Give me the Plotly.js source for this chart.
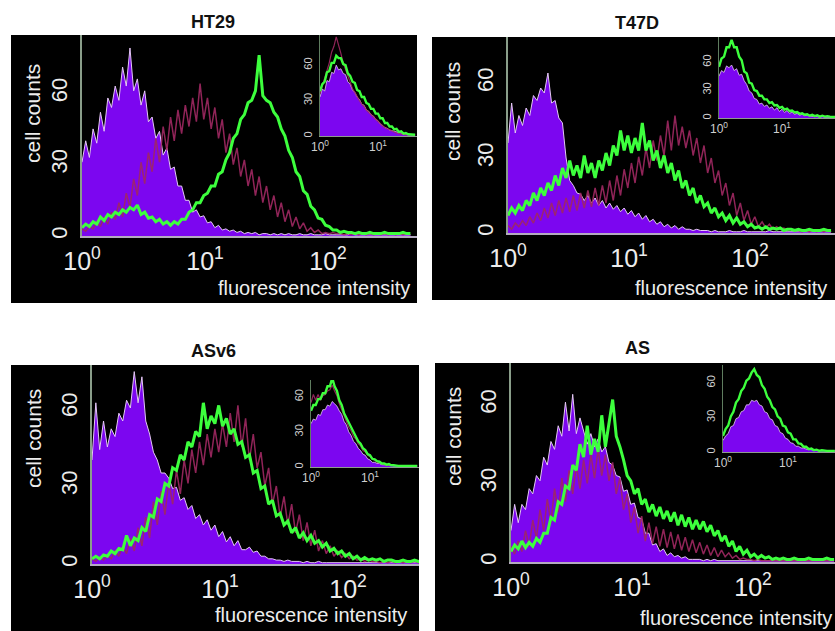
<!DOCTYPE html>
<html>
<head>
<meta charset="utf-8">
<script src="https://cdn.plot.ly/plotly-3.0.1.min.js"></script>
<style>
html,body{margin:0;padding:0;background:#ffffff;}
#chart{width:835px;height:631px;}
</style>
</head>
<body>
<div id="chart"></div>
<script>
// ---------------- DATA ----------------
// x is fluorescence intensity in decades (log10); bins start at 10^0
const CELL_LINES = ['HT29', 'T47D', 'ASv6', 'AS'];
const MAIN_BIN_DECADES = 0.03;
const INSET_BIN_DECADES = 0.04;
const X_TICK_VALUES = [0, 1, 2];
const X_TICK_TEXT = ['10<sup>0</sup>', '10<sup>1</sup>', '10<sup>2</sup>'];
const INSET_X_TICK_VALUES = [0, 1];
const INSET_X_TICK_TEXT = ['10<sup>0</sup>', '10<sup>1</sup>'];
const Y_TICK_VALUES = [0, 30, 60];
const Y_TICK_TEXT = ['0', '30', '60'];
const Y_TITLE = 'cell counts';
const X_TITLE = 'fluorescence intensity';

// HT29
const HT29_CONTROL = [31,40,33,45,39,52,44,58,54,63, 57,71,63,79,61,66,55,61,48,50, 41,44,34,37,28,29,21,21,15,15, 10,11,8,8.5,5.5,6,3.5,4.5,2.5,3, 2,2.5,1.5,2,1,1.5,1,1.5,0.5,1, 1,0.5,1,0.5,1,0.5,1,0.5,0.5,1, 0.5,0.5,1,0.5,0.5,0.5,1,0.5,0.5,0.5, 0.5,0.5,0.5,1,0.5,0.5,0.5,0.5,0.5,0.5, 0.5,0.5,0.5,0.5,0.5,0.5,0.5,0.5,0.5,0.5];
const HT29_MAROON = [3,2,4,3,6,4,8,5,10,7, 14,8,18,12,24,17,31,22,35,27, 41,31,46,36,50,40,53,43,55,46, 58,48,64,49,58,45,54,41,49,35, 43,30,37,25,32,21,28,17,25,14, 21,11,17,8,14,6,11,4,8,3, 5.5,2,3.5,1.5,2.5,1,1.5,1,1.5,1, 1,0.5,1,0.5,1,0.5,1,0.5,1,0.5, 1,0.5,1,0.5,1,0.5,1,0.5,1,0.5];
const HT29_GREEN = [3.5,5,4,6,5,8,6.5,9,8,10, 9,11,10,12,11,13,9,10,7.5,8, 6,7,5,6,4.5,6,5,7,7,10, 11,14,14,17,18,21,21,26,27,32, 35,41,43,49,51,56,57,61,76,59, 57,56,52,50,45,42,36,33,27,25, 19,17.5,12.5,11,7.5,7,4.5,4,2.5,2.5, 1.5,2,1.5,1.5,1,1.5,1,1,1.5,1, 1,1,1.5,1,1,1,1,1.5,1,1];
const HT29_INSET_CONTROL = [33,40,38,47,46,54,53,60,56,57,53,52,46,44,39,37,33,31,27,26,22,21,18,17,14,13,10,9,7,6.5,5,4.5,3.5,3,2.5,2,1.5,1.5,1,1,1,1];
const HT29_INSET_MAROON = [36,42,48,56,62,71,76,84,78,70,62,56,50,46,40,37,33,30,27,25,22,20,18,16,14,12,10,8.5,7,6,5,4,3,2.5,2,1.5,1.5,1,1,1,1,1];
const HT29_INSET_GREEN = [38,44,46,54,55,62,62,68,66,66,61,60,53,51,46,45,39,38,33,33,28,27,23,23,19,19,15,15,11,11,8,8,5.5,6,3.5,4,2,2.5,1.5,1.5,1,1];

// T47D
const T47D_CONTROL = [36,52,40,47,43,50,47,55,53,58, 56,64,52,53,46,44,30,21,19,16, 15.5,13,15,12,14,11,13,10,12,9.5, 11,8.5,10,7.5,9,6.5,8,5.5,7,4.5, 5.5,3.5,4.5,2.5,3.5,2,3,1.5,2.5,1.5, 1.5,1,1.5,1,1,1,0.5,1,0.5,0.5, 0.5,1,0.5,0.5,0.5,1,0.5,0.5,0.5,0.5, 0.5,0.5,1,0.5,0.5,0.5,0.5,0.5,0.5,0.5, 0.5,0.5,0.5,0.5,0.5,0.5,0.5,0.5,0.5,0.5];
const T47D_MAROON = [3,1.5,4,2.5,5,3,6.5,4,8,5, 10,6,12,7,13,8,14,8.5,15,9, 16,10,17,10.5,18,11,19,12,21,13, 23,15,25.5,18,28,20,30.5,23,34,26, 37,29,39,31,45,33,47,35,42.5,34, 41,31,38,28,35,24,30,20,25,15, 20,11,16,7,12,5,9,3.5,6.5,2.5, 4.5,2,3.5,1.5,2.5,1.5,2,1,1.5,1, 1,0.5,1,0.5,1,0.5,1,0.5,1,0.5];
const T47D_GREEN = [7,10,8,11,9,13,11,16,13,18, 15,20,17,23,19,26,22,29,23,27, 22,31,24,28,22,29,25,32,27,35, 31,41,33,39,32,38,33,44,33,37, 29,33,26,31,24,28,21,25,18,21, 15,18,12,15,10.5,12,8,10,6.5,8, 5,7,4,6,3.5,4.5,2.5,3.5,2,2.5, 1.5,2.5,1.5,2,1.5,2,1,1.5,1.5,1, 1.5,1,1,1.5,1,1,1,1.5,1,1];
const T47D_INSET_CONTROL = [45,51,49,56,54,57,51,53,46,47,40,36,29,27,21,20,15,16,12.5,14,10.5,12,8.5,11,7,9.5,6,8,5,6.5,4,5,3,4,2.5,3,2,2,1.5,1.5,1,1.5,1,1,1,1,1];
const T47D_INSET_GREEN = [55,64,66,76,76,84,76,76,66,62,50,48,38,37,30,29,24,24,20,20,16,17,13.5,14,11,12,9,10,7.5,8,6,6.5,4.5,5,3.5,4,2.5,3.5,2,3,1.5,2.5,1.5,2,1.5,1.5,1];

// ASv6
const ASV6_CONTROL = [40,62,44,55,45,52,49,58,55,63, 60,74,62,72,55,50,43,40,35,35, 33,29,29.5,24.5,25.5,21,22.5,17.5,19,15, 17,13,15,10.5,12.5,8.5,10.5,7,9,5.5, 5.5,6.5,4.5,5,3,3,2,2,1.5,1.5, 1,1.5,1,1,1,0.5,1,0.5,0.5,1, 0.5,0.5,0.5,0.5,0.5,0.5,0.5,0.5,0.5,0.5, 0.5,0.5,0.5,0.5,0.5,0.5,0.5,0.5,0.5,0.5, 0.5,0.5,0.5,0.5,0.5,0.5,0.5,0.5,0.5,0.5];
const ASV6_MAROON = [2,1,2.5,1.5,3.5,2,5,3,7,4, 10,5,14,7,18,10,24,15,28,19, 32,23,36,27,40,31,44,35,47,38, 50,41,52,43,54,45,58,47,61,45, 56,40,50,37,43,30,37,23,30,18, 26,15,23,12,19,9,16,7,13,5, 9,4,7,3,5,2.5,4,2,3,1.5, 2,1,1.5,1,1,0.5,1,0.5,1,0.5, 1,0.5,1,0.5,1,0.5,1,0.5,1,0.5];
const ASV6_GREEN = [2,3,2,3.5,3,5,4,6,5.5,11, 7,10,9,14,12.5,19,18,25,24,31, 30,37,36,42,40,47,45,51,49,62, 52,57,54,61,53,56,50,52,46,47, 41,42,35,36,29,30,23,24.5,18.5,19.5, 15,16.5,12,14,10,12,9,11,8,9, 6.5,8,5,6,4,5,3,4,2,3, 1.5,2.5,1.5,2,1.5,2,1,1.5,1.5,1, 1,1.5,1,1,1.5,1,1,1,1.5,1];
const ASV6_INSET_CONTROL = [37,41,40,45,44,49,49,53,52,56,54,52,48,45,39,36,30,27,22,20,16,14,11,10,7,6,4,4,3,3,2,2,1.5,1.5,1.5,1,1,1,1,1,1,1,1,1,1,1];
const ASV6_INSET_MAROON = [55,62,57,62,57,61,62,65,66,70,65,61,54,49,43,39,34,31,26,24,20,18,14,13,10,9,6.5,6,4,3.5,2.5,2,1.5,1.5,1,1,1,1,1,1,1,1,1,1,1,1];
const ASV6_INSET_GREEN = [48,53,53,58,58,63,63,69,69,76,69,65,57,53,46,42,37,34,29,26,22,20,16,14.5,11,10,7,6.5,5,4.5,3,3,2,2.5,1.5,1.5,1,1,1,1,1,1,1,1,1,1];

// AS
const AS_CONTROL = [12,22,15,22,20,28,26,33,31,40, 37,46,43,52,48,61,50,64,49,55, 50,45,49,44,47,42,44,38,37,33, 32.5,27,27.5,22,22.5,17,16.5,11,11,6.5, 7,4,5,2.5,3.5,2,2.5,1.5,2,1, 1,1,1,0.5,1,0.5,1,0.5,0.5,0.5, 0.5,0.5,0.5,0.5,0.5,0.5,0.5,0.5,0.5,0.5, 0.5,0.5,0.5,0.5,0.5,0.5,0.5,0.5,0.5,0.5, 0.5,0.5,0.5,0.5,0.5,0.5,0.5,0.5,0.5,0.5];
const AS_MAROON = [6,3,8,4,12,6,16,9,20,12, 24,15,28,19,32,23,35,26,37,28, 39,30,41,32,43,33,41,31,38,26, 32,20,26,15,21,11,17.5,8,15,7, 13.5,6,12.5,5.5,11.5,5,10.5,4.5,9.5,4, 8.5,3.5,7.5,3,6.5,2.5,5.5,2,4.5,2, 3.5,1.5,2.5,1,1.5,1,1,0.5,1,0.5, 0.5,0.5,0.5,0.5,0.5,0.5,0.5,0.5,0.5,0.5, 0.5,0.5,0.5,0.5,0.5,0.5,0.5,0.5,0.5,0.5];
const AS_GREEN = [4,6.5,5,8,5.5,7.5,6,9,7.5,11, 11,17,16,23,22,29,28,37,35,45, 40,52,41,47,42,56,44,53,62,48, 44,39,33,31,26,28,22,24,19,22, 17.5,21,16.5,19.5,15.5,19,14,18,13.5,17, 12.5,16,12.5,15.5,11.5,14,10,12,8,10, 6,8,4,6,3,4.5,2,3,1.5,2.5, 1.5,2,1,1.5,1,1.5,1,1,1.5,1, 1,1,1.5,1,1,1,1,1.5,1,1];
const AS_INSET_CONTROL = [10,14,16,22,23,29,30,35,36,41,41,45,44,45,41,40,35,34,29,28,23,22,17,16,12,11,8,7.5,5,5,3.5,3.5,2.5,2.5,2,1.5,1.5,1.5,1,1,1,1,1,1];
const AS_INSET_GREEN = [14,20,23,31,35,43,46,53,56,62,64,69,72,67,65,58,55,48,45,39,37,31,29,23,22,17,16,11,11,7.5,7,4.5,4.5,2.5,3,1.5,2,1,1.5,1,1,1,1,1];

// ---------------- LAYOUT / STYLE ----------------
const W = 835, H = 631;
const COL_FILL = '#7c06f0';
const COL_OUTLINE = '#e4c8f4';
const COL_MAROON = 'rgba(160,40,98,0.9)';
const COL_GREEN = '#3dff3d';
const FONT_SANS = 'Liberation Sans, Arial, Helvetica, sans-serif';

function xDom(a, b) { return [a / W, Math.min(1, b / W)]; }
function yDom(top, bottom) { return [1 - bottom / H, 1 - top / H]; }

// pixel geometry of each panel (box, main axes, inset axes)
const PANELS = [
  { name: CELL_LINES[0], box: [11, 35, 417, 303], titleXY: [213, 22],
    main: { x0: 82, x1: 417, dec: 123, top: 35, base: 236, unit: 2.38 },
    inset: { x0: 320, x1: 417, dec: 58, top: 35, base: 136, unit: 1.18 },
    ylab: [33, 114], xlab: [412, 288],
    data: [HT29_CONTROL, HT29_MAROON, HT29_GREEN], insetData: [HT29_INSET_CONTROL, HT29_INSET_MAROON, HT29_INSET_GREEN] },
  { name: CELL_LINES[1], box: [432, 37, 835, 300], titleXY: [637, 23],
    main: { x0: 508, x1: 835, dec: 121, top: 37, base: 233, unit: 2.5 },
    inset: { x0: 719, x1: 835, dec: 63, top: 37, base: 118, unit: 0.93 },
    ylab: [452, 112], xlab: [829, 288],
    data: [T47D_CONTROL, T47D_MAROON, T47D_GREEN], insetData: [T47D_INSET_CONTROL, null, T47D_INSET_GREEN] },
  { name: CELL_LINES[2], box: [11, 365, 419, 631], titleXY: [213, 351],
    main: { x0: 92, x1: 419, dec: 128, top: 365, base: 564, unit: 2.6 },
    inset: { x0: 311, x1: 419, dec: 59, top: 380, base: 467, unit: 1.17 },
    ylab: [33, 439], xlab: [409, 615],
    data: [ASV6_CONTROL, ASV6_MAROON, ASV6_GREEN], insetData: [ASV6_INSET_CONTROL, ASV6_INSET_MAROON, ASV6_INSET_GREEN] },
  { name: CELL_LINES[3], box: [435, 363, 835, 631], titleXY: [637, 348],
    main: { x0: 511, x1: 835, dec: 121, top: 363, base: 562, unit: 2.62 },
    inset: { x0: 723, x1: 835, dec: 65, top: 365, base: 452, unit: 1.15 },
    ylab: [453, 437], xlab: [834, 618],
    data: [AS_CONTROL, AS_MAROON, AS_GREEN], insetData: [AS_INSET_CONTROL, null, AS_INSET_GREEN] }
];

const traces = [];
const layout = {
  width: W, height: H,
  margin: { l: 0, r: 0, t: 0, b: 0, pad: 0 },
  paper_bgcolor: '#ffffff',
  plot_bgcolor: 'rgba(0,0,0,0)',
  showlegend: false,
  shapes: [],
  annotations: []
};

function addSeries(values, step, xref, yref, kind, widthScale) {
  const base = { type: 'scatter', mode: 'lines', x0: 0, dx: step, y: values,
    xaxis: xref, yaxis: yref, hoverinfo: 'skip' };
  if (kind === 0) {
    Object.assign(base, { fill: 'tozeroy', fillcolor: COL_FILL,
      line: { color: COL_OUTLINE, width: 1 * widthScale } });
  } else if (kind === 1) {
    Object.assign(base, { line: { color: COL_MAROON, width: 1.5 * widthScale } });
  } else {
    Object.assign(base, { line: { color: COL_GREEN, width: 3 * widthScale } });
  }
  traces.push(base);
}

function axisPair(n, g, isInset) {
  const xk = n === 1 ? 'xaxis' : 'xaxis' + n;
  const yk = n === 1 ? 'yaxis' : 'yaxis' + n;
  const xr = n === 1 ? 'x' : 'x' + n;
  const yr = n === 1 ? 'y' : 'y' + n;
  layout[xk] = {
    domain: xDom(g.x0, g.x1), range: [0, (g.x1 - g.x0) / g.dec], anchor: yr,
    showgrid: false, zeroline: false, showline: true,
    linecolor: isInset ? '#8f9a8f' : '#b4aac0', linewidth: isInset ? 1 : 1.5,
    tickmode: 'array',
    tickvals: isInset ? INSET_X_TICK_VALUES : X_TICK_VALUES,
    ticktext: isInset ? INSET_X_TICK_TEXT : X_TICK_TEXT,
    ticks: '', ticklabelstandoff: isInset ? 0 : 2,
    tickfont: { family: FONT_SANS, size: isInset ? 12 : 25, color: isInset ? '#cfcfcf' : '#ececec' },
    fixedrange: true
  };
  layout[yk] = {
    domain: yDom(g.top, g.base), range: [0, (g.base - g.top) / g.unit], anchor: xr,
    showgrid: false, zeroline: false, showline: true,
    linecolor: isInset ? '#5f7d5f' : '#8a9e8a', linewidth: isInset ? 1.5 : 2,
    tickmode: 'array', tickvals: Y_TICK_VALUES, ticktext: Y_TICK_TEXT,
    tickangle: -90, ticks: '', ticklabelstandoff: isInset ? 2 : 4,
    tickfont: { family: FONT_SANS, size: isInset ? 11 : 22, color: isInset ? '#cfcfcf' : '#ececec' },
    fixedrange: true
  };
  return [xr, yr];
}

PANELS.forEach((p, i) => {
  layout.shapes.push({ type: 'rect', xref: 'paper', yref: 'paper', layer: 'below',
    x0: p.box[0] / W, x1: p.box[2] / W, y0: 1 - p.box[3] / H, y1: 1 - p.box[1] / H,
    fillcolor: '#000000', line: { width: 0 } });
  const [xm, ym] = axisPair(i + 1, p.main, false);
  p.data.forEach((arr, k) => addSeries(arr, MAIN_BIN_DECADES, xm, ym, k, 1));
  const [xi, yi] = axisPair(i + 5, p.inset, true);
  p.insetData.forEach((arr, k) => { if (arr) addSeries(arr, INSET_BIN_DECADES, xi, yi, k, 0.8); });

  layout.annotations.push({ xref: 'paper', yref: 'paper', x: p.titleXY[0] / W, y: 1 - p.titleXY[1] / H,
    xanchor: 'center', yanchor: 'middle', showarrow: false, text: '<b>' + p.name + '</b>',
    font: { family: FONT_SANS, size: 18, color: '#111111' } });
  layout.annotations.push({ xref: 'paper', yref: 'paper', x: p.ylab[0] / W, y: 1 - p.ylab[1] / H,
    xanchor: 'center', yanchor: 'middle', showarrow: false, text: Y_TITLE, textangle: -90,
    font: { family: FONT_SANS, size: 21, color: '#ededed' } });
  layout.annotations.push({ xref: 'paper', yref: 'paper', x: p.xlab[0] / W, y: 1 - p.xlab[1] / H,
    xanchor: 'right', yanchor: 'middle', showarrow: false, text: X_TITLE,
    font: { family: FONT_SANS, size: 20, color: '#ededed' } });
});

Plotly.newPlot('chart', traces, layout, { staticPlot: true, displayModeBar: false });
</script>
</body>
</html>
